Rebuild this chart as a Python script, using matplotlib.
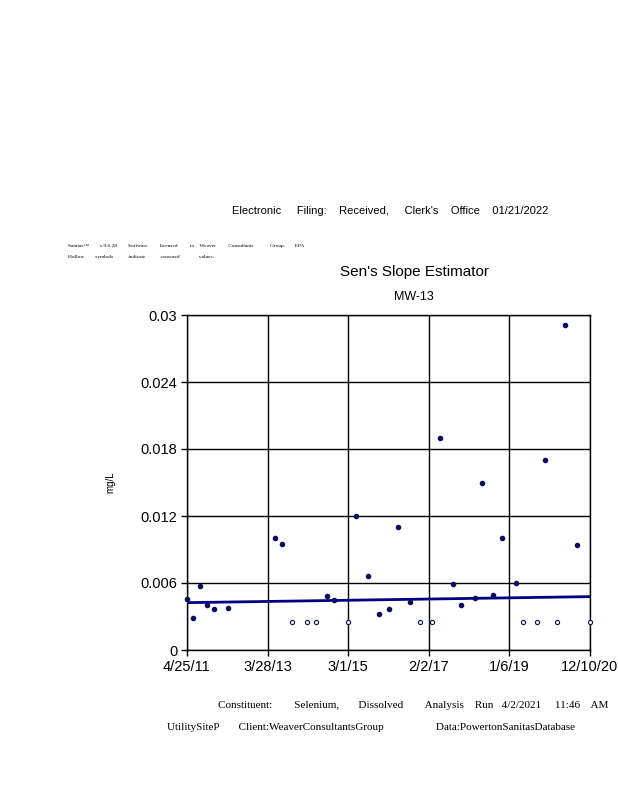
import matplotlib
matplotlib.use("Agg")
import matplotlib.pyplot as plt
import matplotlib.dates as mdates
import pandas as pd

# detected values, mg/L
det_dates = [
    "2011-04-25", "2011-06-19", "2011-08-16", "2011-10-19", "2011-12-16", "2012-04-17",
    "2013-06-03", "2013-08-05", "2014-08-25", "2014-10-28", "2015-05-11", "2015-08-18",
    "2015-11-25", "2016-02-22", "2016-05-12", "2016-08-22", "2017-05-08", "2017-08-29",
    "2017-11-09", "2018-03-15", "2018-05-15", "2018-08-16", "2018-11-05", "2019-03-04",
    "2019-11-13", "2020-05-02", "2020-08-15",
]
det_vals = [
    0.0046, 0.0029, 0.0057, 0.0040, 0.0037, 0.0038,
    0.0100, 0.0095, 0.0048, 0.0045, 0.0120, 0.0066,
    0.0032, 0.0037, 0.0110, 0.0043, 0.0190, 0.0059,
    0.0040, 0.0047, 0.0150, 0.0049, 0.0100, 0.0060,
    0.0170, 0.0291, 0.0094,
]

# censored (non-detect) values
cen_dates = [
    "2013-10-24", "2014-03-07", "2014-05-27", "2015-03-02", "2016-11-15", "2017-02-27",
    "2019-05-02", "2019-09-01", "2020-02-28", "2020-12-10",
]
cen_vals = [0.0025] * len(cen_dates)

# Sen's slope line end points
trend_dates = ["2011-04-25", "2020-12-10"]
trend_vals = [0.00424, 0.00478]

x_ticks = ["2011-04-25", "2013-03-28", "2015-03-01", "2017-02-02", "2019-01-06", "2020-12-10"]
x_labels = ["4/25/11", "3/28/13", "3/1/15", "2/2/17", "1/6/19", "12/10/20"]
y_ticks = [0, 0.006, 0.012, 0.018, 0.024, 0.03]
y_labels = ["0", "0.006", "0.012", "0.018", "0.024", "0.03"]

NAVY = "#0c0c60"
SANS = ["Liberation Sans", "DejaVu Sans"]
SERIF = ["Liberation Serif", "DejaVu Serif"]

fig = plt.figure(figsize=(6.18, 8), dpi=100)
ax = fig.add_axes([187 / 618, 150 / 800, 403 / 618, 335 / 800])

ax.plot(pd.to_datetime(trend_dates), trend_vals, color="#000080", lw=2, zorder=3)
ax.plot(pd.to_datetime(det_dates), det_vals, "o", ms=3.0, color=NAVY, zorder=4, clip_on=False)
ax.plot(pd.to_datetime(cen_dates), cen_vals, "o", ms=3.0, mfc="white", mec=NAVY, mew=0.8,
        zorder=4, clip_on=False)

xt = mdates.date2num(pd.to_datetime(x_ticks))
ax.set_xlim(xt[0], xt[-1])
ax.set_ylim(0, 0.03)
ax.set_xticks(xt)
ax.set_xticklabels(x_labels, fontsize=10.5, family=SANS)
ax.set_yticks(y_ticks)
ax.set_yticklabels(y_labels, fontsize=10.5, family=SANS)
ax.grid(True, color="black", lw=1)
ax.tick_params(length=4, width=1, color="black", pad=3)
for s in ax.spines.values():
    s.set_linewidth(1)
ax.set_ylabel("mg/L", fontsize=7, family=SANS, labelpad=18)

fig.text(390 / 618, 1 - 211 / 800,
         "Electronic     Filing:    Received,     Clerk's    Office    01/21/2022",
         ha="center", va="center", fontsize=8, family=SANS)
fig.text(68 / 618, 1 - 246 / 800,
         "Sanitas\u2122        v.9.6.28        Software         licensed         to    Weaver         Consultants            Group.       EPA",
         ha="left", va="center", fontsize=3.9, family=SERIF)
fig.text(68 / 618, 1 - 257 / 800,
         "Hollow        symbols           indicate           censored              values.",
         ha="left", va="center", fontsize=3.9, family=SERIF)
fig.text(415 / 618, 1 - 272 / 800, "Sen's Slope Estimator", ha="center", va="center",
         fontsize=11, family=SANS)
fig.text(414 / 618, 1 - 297 / 800, "MW-13", ha="center", va="center", fontsize=9, family=SANS)

fig.text(218 / 618, 1 - 705 / 800,
         "Constituent:        Selenium,       Dissolved        Analysis    Run   4/2/2021     11:46    AM",
         ha="left", va="center", fontsize=8, family=SERIF)
fig.text(167 / 618, 1 - 727 / 800,
         "UtilitySiteP       Client:WeaverConsultantsGroup                   Data:PowertonSanitasDatabase",
         ha="left", va="center", fontsize=8, family=SERIF)

fig.savefig("out.png", dpi=100)
